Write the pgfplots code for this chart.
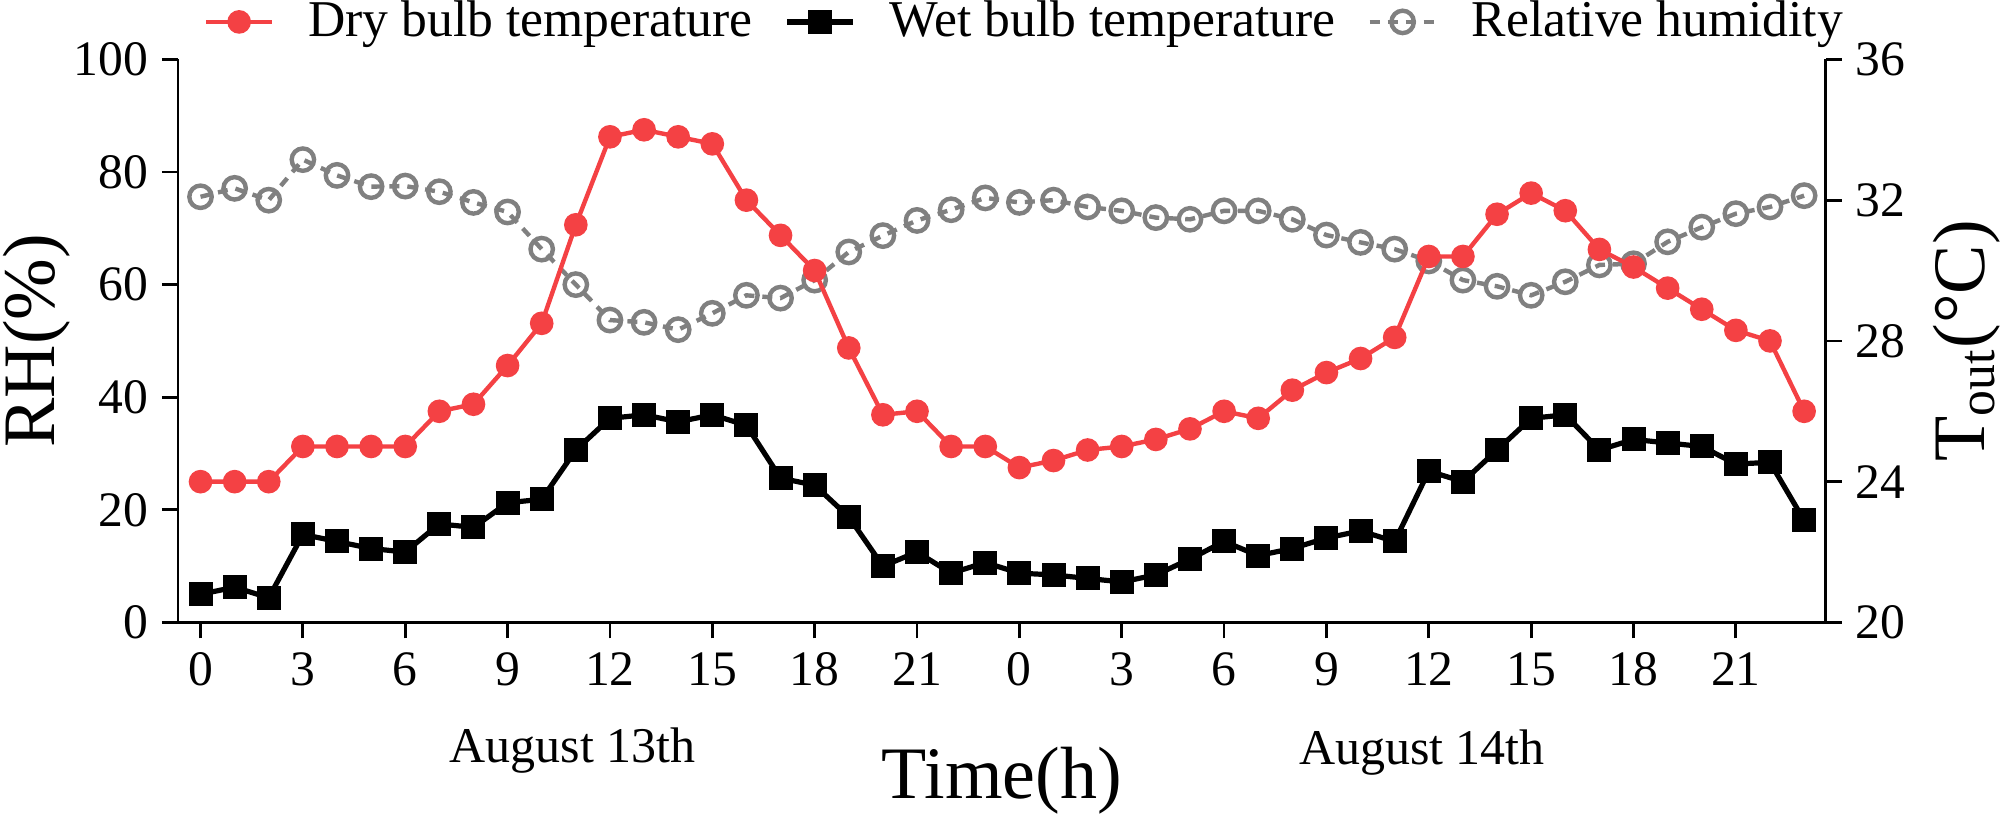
\documentclass[border=0pt]{standalone}
\usepackage{fontspec}
\setmainfont{Liberation Serif}
\usepackage{pgfplots}
\usepackage{pgfplotstable}
\pgfplotsset{compat=1.18}
\definecolor{drybulb}{HTML}{F44144}
\definecolor{rhgray}{HTML}{808080}

% hour, dry bulb (C), wet bulb (C), relative humidity (%)
\pgfplotstableread{
h dry wet rh
0 24.0 20.8 75.6
1 24.0 21.0 77.1
2 24.0 20.7 75.0
3 25.0 22.5 82.2
4 25.0 22.3 79.4
5 25.0 22.1 77.4
6 25.0 22.0 77.5
7 26.0 22.8 76.5
8 26.2 22.7 74.6
9 27.3 23.4 72.9
10 28.5 23.5 66.3
11 31.3 24.9 60.0
12 33.8 25.8 53.7
13 34.0 25.9 53.3
14 33.8 25.7 52.0
15 33.6 25.9 54.9
16 32.0 25.6 58.1
17 31.0 24.1 57.6
18 30.0 23.9 60.8
19 27.8 23.0 65.8
20 25.9 21.6 68.7
21 26.0 22.0 71.4
22 25.0 21.4 73.3
23 25.0 21.7 75.4
24 24.4 21.4 74.6
25 24.6 21.35 75.0
26 24.9 21.25 73.8
27 25.0 21.15 73.1
28 25.2 21.35 71.9
29 25.5 21.8 71.6
30 26.0 22.3 73.1
31 25.8 21.9 73.1
32 26.6 22.1 71.6
33 27.1 22.4 68.8
34 27.5 22.6 67.5
35 28.1 22.3 66.3
36 30.4 24.3 64.2
37 30.4 24.0 60.8
38 31.6 24.9 59.7
39 32.2 25.8 58.1
40 31.7 25.9 60.5
41 30.6 24.9 63.5
42 30.1 25.2 63.7
43 29.5 25.1 67.6
44 28.9 25.0 70.2
45 28.3 24.5 72.6
46 28.0 24.55 73.8
47 26.0 22.9 75.8
}\weather

\begin{document}
\begin{tikzpicture}
\useasboundingbox (-44.5pt,-48.4pt) rectangle (457.5pt,155.6pt);
\pgfplotsset{
  common/.style={
    at={(0,0)}, anchor=south west,
    scale only axis, width=411.9pt, height=140.75pt,
    xmin=-0.66, xmax=47.63,
    tick align=outside,
    major tick length=4pt,
    tick style={line width=0.7pt, black},
    axis line style={line width=0.7pt, -},
    ticklabel style={font=\fontsize{12.4}{14}\selectfont},
    /pgf/number format/assume math mode=true,
    legend image code/.code={
      \draw[mark repeat=2,mark phase=2,##1] plot coordinates {(0pt,0pt) (8.25pt,0pt) (16.5pt,0pt)};},
  },
  rhstyle/.style={rhgray, line width=1.1pt, dash pattern=on 2.5pt off 2pt,
    mark=o, mark size=2.8pt, mark options={solid, fill=white, line width=1.1pt}},
}
\begin{axis}[common,
  ymin=0, ymax=100,
  axis x line*=bottom, axis y line*=left,
  xtick={0,3,...,45},
  xticklabels={0,3,6,9,12,15,18,21,0,3,6,9,12,15,18,21},
  ytick={0,20,40,60,80,100},
  ylabel={RH(\%)},
  xlabel={Time(h)},
  every axis y label/.style={at={(axis description cs:-0.0855,0.5)}, rotate=90, anchor=center,
    font=\fontsize{18.5}{21}\selectfont},
  every axis x label/.style={at={(axis description cs:0.5,-0.2815)}, anchor=center,
    font=\fontsize{18.5}{21}\selectfont},
  clip=false,
]
\addplot[rhstyle] table[x=h, y=rh] {\weather};
\node[anchor=base, font=\fontsize{12.5}{15}\selectfont] at (axis cs:10.9,-24.9) {August 13th};
\node[anchor=base, font=\fontsize{12.5}{15}\selectfont] at (axis cs:35.8,-25.3) {August 14th};
\end{axis}
\begin{axis}[common,
  ymin=20, ymax=36,
  axis y line*=right, axis x line=none,
  ytick={20,24,28,32,36},
  ylabel={T\textsubscript{out}(°C)},
  every axis y label/.style={at={(axis description cs:1.0855,0.5)}, rotate=90, anchor=center,
    font=\fontsize{18.5}{21}\selectfont},
  legend columns=3,
  legend cell align=left,
  legend style={draw=none, fill=none, at={(0.5156,1.0666)}, anchor=center,
    font=\fontsize{12.9}{15}\selectfont,
    /tikz/every odd column/.append style={column sep=6.5pt},
    /tikz/every even column/.append style={column sep=6pt}},
]
\addplot[drybulb, line width=1.1pt, mark=*, mark size=2.4pt] table[x=h, y=dry] {\weather};
\addlegendentry{Dry bulb temperature}
\addplot[black, line width=1.3pt, mark=square*, mark size=2.35pt] table[x=h, y=wet] {\weather};
\addlegendentry{Wet bulb temperature}
\addlegendimage{rhstyle}
\addlegendentry{Relative humidity}
\end{axis}
\end{tikzpicture}
\end{document}
